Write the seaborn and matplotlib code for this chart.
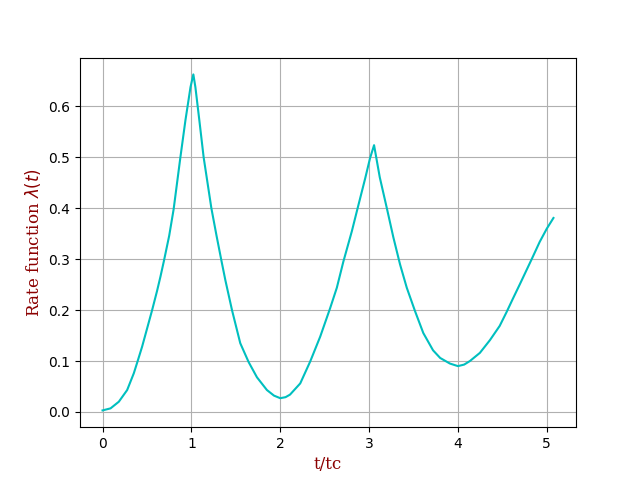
import matplotlib
matplotlib.use("Agg")
import matplotlib.pyplot as plt
import seaborn as sns
import pandas as pd

# values
t_over_tc = [0.0, 0.09, 0.183, 0.277, 0.352, 0.39, 0.445, 0.50, 0.558, 0.614,
             0.652, 0.69, 0.75, 0.80, 0.876, 0.933, 0.99, 1.022, 1.045, 1.09,
             1.138, 1.225, 1.282, 1.337, 1.382, 1.457, 1.55, 1.644, 1.738, 1.85,
             1.93, 2.0, 2.06, 2.11, 2.225, 2.337, 2.45, 2.56, 2.637, 2.71, 2.806,
             2.862, 2.955, 3.01, 3.056, 3.12, 3.20, 3.273, 3.348, 3.424, 3.517,
             3.61, 3.72, 3.80, 3.91, 4.0, 4.07, 4.135, 4.247, 4.36, 4.47, 4.547,
             4.62, 4.70, 4.83, 4.92, 5.0, 5.075]
rate = [0.003, 0.007, 0.020, 0.043, 0.076, 0.097, 0.128, 0.163, 0.200, 0.238,
        0.266, 0.296, 0.346, 0.398, 0.500, 0.573, 0.638, 0.663, 0.638, 0.572,
        0.500, 0.400, 0.347, 0.298, 0.259, 0.200, 0.135, 0.098, 0.068, 0.043,
        0.032, 0.027, 0.029, 0.034, 0.056, 0.099, 0.148, 0.203, 0.244, 0.295,
        0.355, 0.394, 0.458, 0.498, 0.524, 0.461, 0.400, 0.343, 0.290, 0.244,
        0.198, 0.155, 0.121, 0.106, 0.095, 0.090, 0.093, 0.100, 0.116, 0.141,
        0.169, 0.196, 0.223, 0.252, 0.300, 0.334, 0.360, 0.381]

df = pd.DataFrame({"t": t_over_tc, "rate": rate})

fig, ax = plt.subplots(figsize=(6.4, 4.8), dpi=100)
sns.lineplot(data=df, x="t", y="rate", color="c", estimator=None, ax=ax)

label_font = {"family": "serif", "color": "darkred", "size": 12}
ax.set_xlabel("t/tc", fontdict=label_font)
ax.set_ylabel(r"Rate function $\lambda(t)$", fontdict=label_font)
ax.grid(True)

plt.savefig("out.png", dpi=100)
plt.close()
